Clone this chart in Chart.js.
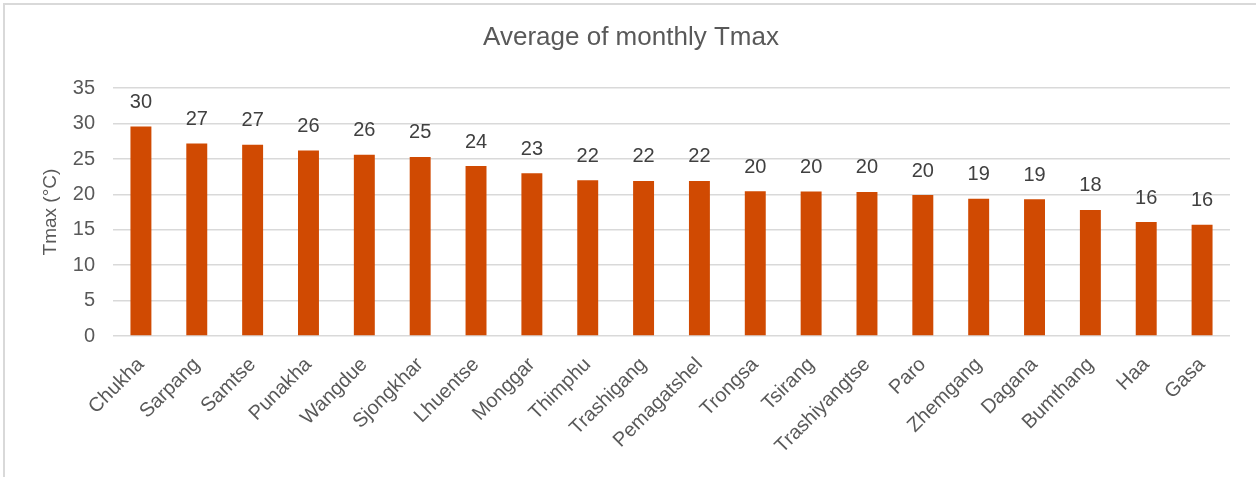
<!DOCTYPE html>
<html lang="en">
<head>
  <meta charset="UTF-8">
  <title>Average of monthly Tmax</title>
  <style>
    body { margin: 0; background: #fff; }
  </style>
</head>
<body>

  <canvas id="myChart" width="1256" height="477"></canvas>

  <script src="https://cdn.jsdelivr.net/npm/chart.js"></script>
  <script>
    const districts = ['Chukha', 'Sarpang', 'Samtse', 'Punakha', 'Wangdue', 'Sjongkhar', 'Lhuentse', 'Monggar', 'Thimphu', 'Trashigang',
                       'Pemagatshel', 'Trongsa', 'Tsirang', 'Trashiyangtse', 'Paro', 'Zhemgang', 'Dagana', 'Bumthang', 'Haa', 'Gasa'];
    const tmaxAvg = [29.6, 27.2, 27.0, 26.2, 25.6, 25.3, 24.0, 23.0, 22.0, 21.9,
                     21.9, 20.45, 20.4, 20.35, 19.9, 19.4, 19.3, 17.8, 16.1, 15.7];
    const yTicks = [0, 5, 10, 15, 20, 25, 30, 35];

    const FONT = '"Liberation Sans", Arial, sans-serif';
    const GREY = '#595959';

    const ctx = document.getElementById('myChart').getContext('2d');

    // white background + light frame like the excel chart area
    const framePlugin = {
      id: 'framePlugin',
      beforeDraw: (chart) => {
        const c = chart.ctx;
        c.save();
        c.fillStyle = '#fff';
        c.fillRect(0, 0, chart.width, chart.height);
        c.strokeStyle = '#d9d9d9';
        c.lineWidth = 2;
        c.strokeRect(4, 4, chart.width + 20, chart.height + 20);
        c.restore();
      }
    };

    // value labels above every bar
    const valueLabels = {
      id: 'valueLabels',
      afterDatasetsDraw: (chart) => {
        const c = chart.ctx;
        const meta = chart.getDatasetMeta(0);
        c.save();
        c.font = '20px ' + FONT;
        c.fillStyle = '#404040';
        c.textAlign = 'center';
        c.textBaseline = 'middle';
        meta.data.forEach((bar, i) => {
          c.fillText(Math.round(tmaxAvg[i]).toString(), bar.x, bar.y - 24);
        });
        c.restore();
      }
    };

    const myChart = new Chart(ctx, {
      type: 'bar',
      data: {
        labels: districts,
        datasets: [{
          label: 'Tmax',
          data: tmaxAvg,
          backgroundColor: '#d04a02',
          borderWidth: 0,
          barPercentage: 0.375,
          categoryPercentage: 1
        }]
      },
      options: {
        responsive: false,
        animation: false,
        // left/right padding also keeps the title centred where excel put it
        layout: { padding: { left: 32, right: 26, top: 0, bottom: 0 } },
        scales: {
          x: {
            grid: { display: false },
            border: { display: false },
            ticks: {
              color: GREY,
              font: { family: FONT, size: 20 },
              minRotation: 45,
              maxRotation: 45,
              autoSkip: false,
              padding: 9
            },
            afterFit: (scale) => { scale.height = 141; }
          },
          y: {
            min: 0,
            max: 35,
            afterBuildTicks: (scale) => { scale.ticks = yTicks.map(v => ({ value: v })); },
            grid: {
              color: '#d9d9d9',
              lineWidth: 1.5,
              drawTicks: false
            },
            border: { display: false },
            ticks: {
              color: GREY,
              font: { family: FONT, size: 20 },
              padding: 18
            },
            title: {
              display: true,
              text: 'Tmax (°C)',
              color: GREY,
              font: { family: FONT, size: 19 },
              padding: { top: 7, bottom: 0 }
            },
            afterFit: (scale) => { scale.width = 81; }
          }
        },
        plugins: {
          legend: { display: false },
          tooltip: { enabled: false },
          title: {
            display: true,
            text: 'Average of monthly Tmax',
            color: GREY,
            font: { family: FONT, size: 26, weight: 'normal' },
            padding: { top: 22, bottom: 35 }
          }
        }
      },
      plugins: [framePlugin, valueLabels]
    });
  </script>

</body>
</html>
